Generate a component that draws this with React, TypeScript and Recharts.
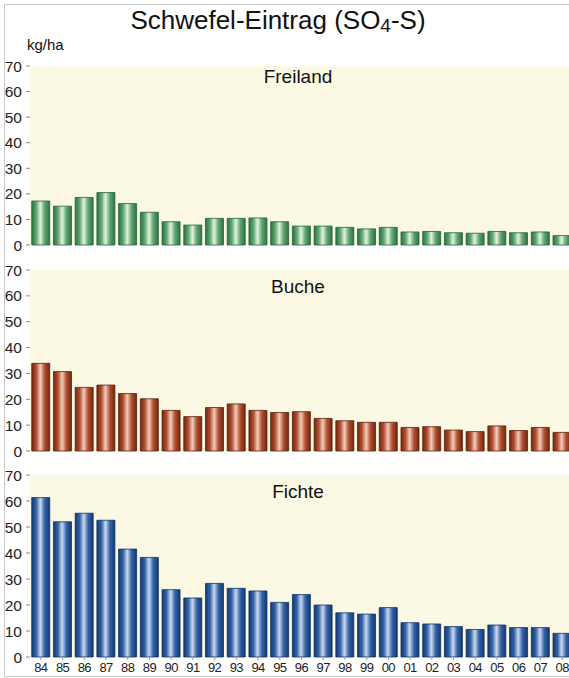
import React from "react";
import { BarChart, Bar, XAxis, YAxis, CartesianGrid } from "recharts";

const years = ["84","85","86","87","88","89","90","91","92","93","94","95","96","97","98","99","00","01","02","03","04","05","06","07","08"];
const freiland = [17.2,15.2,18.6,20.5,16.2,12.8,9.1,7.8,10.4,10.4,10.6,9.1,7.4,7.4,6.9,6.3,6.9,5.1,5.3,4.8,4.6,5.3,4.8,5.1,3.7];
const buche = [33.9,30.7,24.6,25.5,22.2,20.2,15.7,13.3,16.8,18.2,15.7,14.9,15.2,12.6,11.7,11.1,11.1,9.1,9.4,8.1,7.5,9.7,7.9,9.1,7.2];
const fichte = [61.3,52.0,55.3,52.6,41.5,38.3,25.9,22.7,28.3,26.4,25.4,21.0,24.0,20.0,17.0,16.5,19.0,13.2,12.7,11.7,10.6,12.3,11.3,11.3,9.1];
const yTicks = [0,10,20,30,40,50,60,70];

const FONT = '"Liberation Sans", Arial, sans-serif';
const BG = "#FBF9E4";

const panels = [
  { key: "f", title: "Freiland", values: freiland, grad: ["#2A7240", "#5FA670", "#E3F2DF"], stroke: "#266538", top: 54, height: 201, showX: false, titleY: 77 },
  { key: "b", title: "Buche", values: buche, grad: ["#70260D", "#B24F31", "#F3CDBD"], stroke: "#5A200B", top: 258, height: 203, showX: false, titleY: 287 },
  { key: "c", title: "Fichte", values: fichte, grad: ["#113873", "#3464A6", "#CCD8F0"], stroke: "#0F3266", top: 463, height: 215, showX: true, titleY: 492 },
];

function Panel({ p }: { p: any }) {
  const data = years.map((y, i) => ({ year: y, v: p.values[i] }));
  const gid = "grad-" + p.key;
  return (
    <div style={{ position: "absolute", left: 0, top: p.top }}>
      <BarChart
        width={580}
        height={p.height}
        data={data}
        margin={{ top: 12, right: 7, bottom: p.showX ? 0 : 10, left: 0 }}
        barCategoryGap="8%"
      >
        <defs>
          <linearGradient id={gid} x1="0" y1="0" x2="1" y2="0">
            <stop offset="0" stopColor={p.grad[0]} />
            <stop offset="0.25" stopColor={p.grad[1]} />
            <stop offset="0.48" stopColor={p.grad[2]} />
            <stop offset="0.72" stopColor={p.grad[1]} />
            <stop offset="1" stopColor={p.grad[0]} />
          </linearGradient>
        </defs>
        <CartesianGrid fill={BG} stroke="none" horizontal={false} vertical={false} />
        <XAxis
          dataKey="year"
          hide={!p.showX}
          height={p.showX ? 21 : 0}
          axisLine={false}
          tickLine={{ stroke: "#999" }}
          tickSize={3}
          tickMargin={3}
          interval={0}
          tick={{ fontSize: 13, fill: "#222", fontFamily: FONT, letterSpacing: -0.6 }}
        />
        <YAxis
          width={30}
          domain={[0, 70]}
          ticks={yTicks}
          interval={0}
          axisLine={false}
          tickLine={{ stroke: "#888" }}
          tickSize={4}
          tickMargin={4}
          tick={{ fontSize: 15.5, fill: "#222", fontFamily: FONT }}
        />
        <Bar dataKey="v" fill={`url(#${gid})`} stroke={p.stroke} strokeWidth={0.8} isAnimationActive={false} />
      </BarChart>
      <div
        style={{
          position: "absolute",
          left: 298,
          top: p.titleY - p.top,
          transform: "translate(-50%, -50%)",
          fontFamily: FONT,
          fontSize: 19,
          color: "#111",
          whiteSpace: "nowrap",
        }}
      >
        {p.title}
      </div>
    </div>
  );
}

export default function App() {
  return (
    <div style={{ position: "absolute", left: 0, top: 0, width: 569, height: 678, overflow: "hidden", background: "#fff" }}>
      <div
        style={{
          position: "absolute",
          left: 4,
          top: 4,
          width: 700,
          height: 671,
          borderLeft: "1.5px solid #C9C9C9",
          borderTop: "1.5px solid #C9C9C9",
          borderBottom: "1.5px solid #C9C9C9",
        }}
      />
      {panels.map((p) => (
        <Panel key={p.key} p={p} />
      ))}
      <div
        style={{
          position: "absolute",
          left: 278,
          top: 20,
          transform: "translate(-50%, -50%)",
          fontFamily: FONT,
          fontSize: 26,
          color: "#111",
          whiteSpace: "nowrap",
        }}
      >
        Schwefel-Eintrag (SO<span style={{ fontSize: 19, position: "relative", top: 3 }}>4</span>-S)
      </div>
      <div
        style={{
          position: "absolute",
          left: 27,
          top: 44,
          transform: "translateY(-50%)",
          fontFamily: FONT,
          fontSize: 15,
          color: "#111",
        }}
      >
        kg/ha
      </div>
    </div>
  );
}
